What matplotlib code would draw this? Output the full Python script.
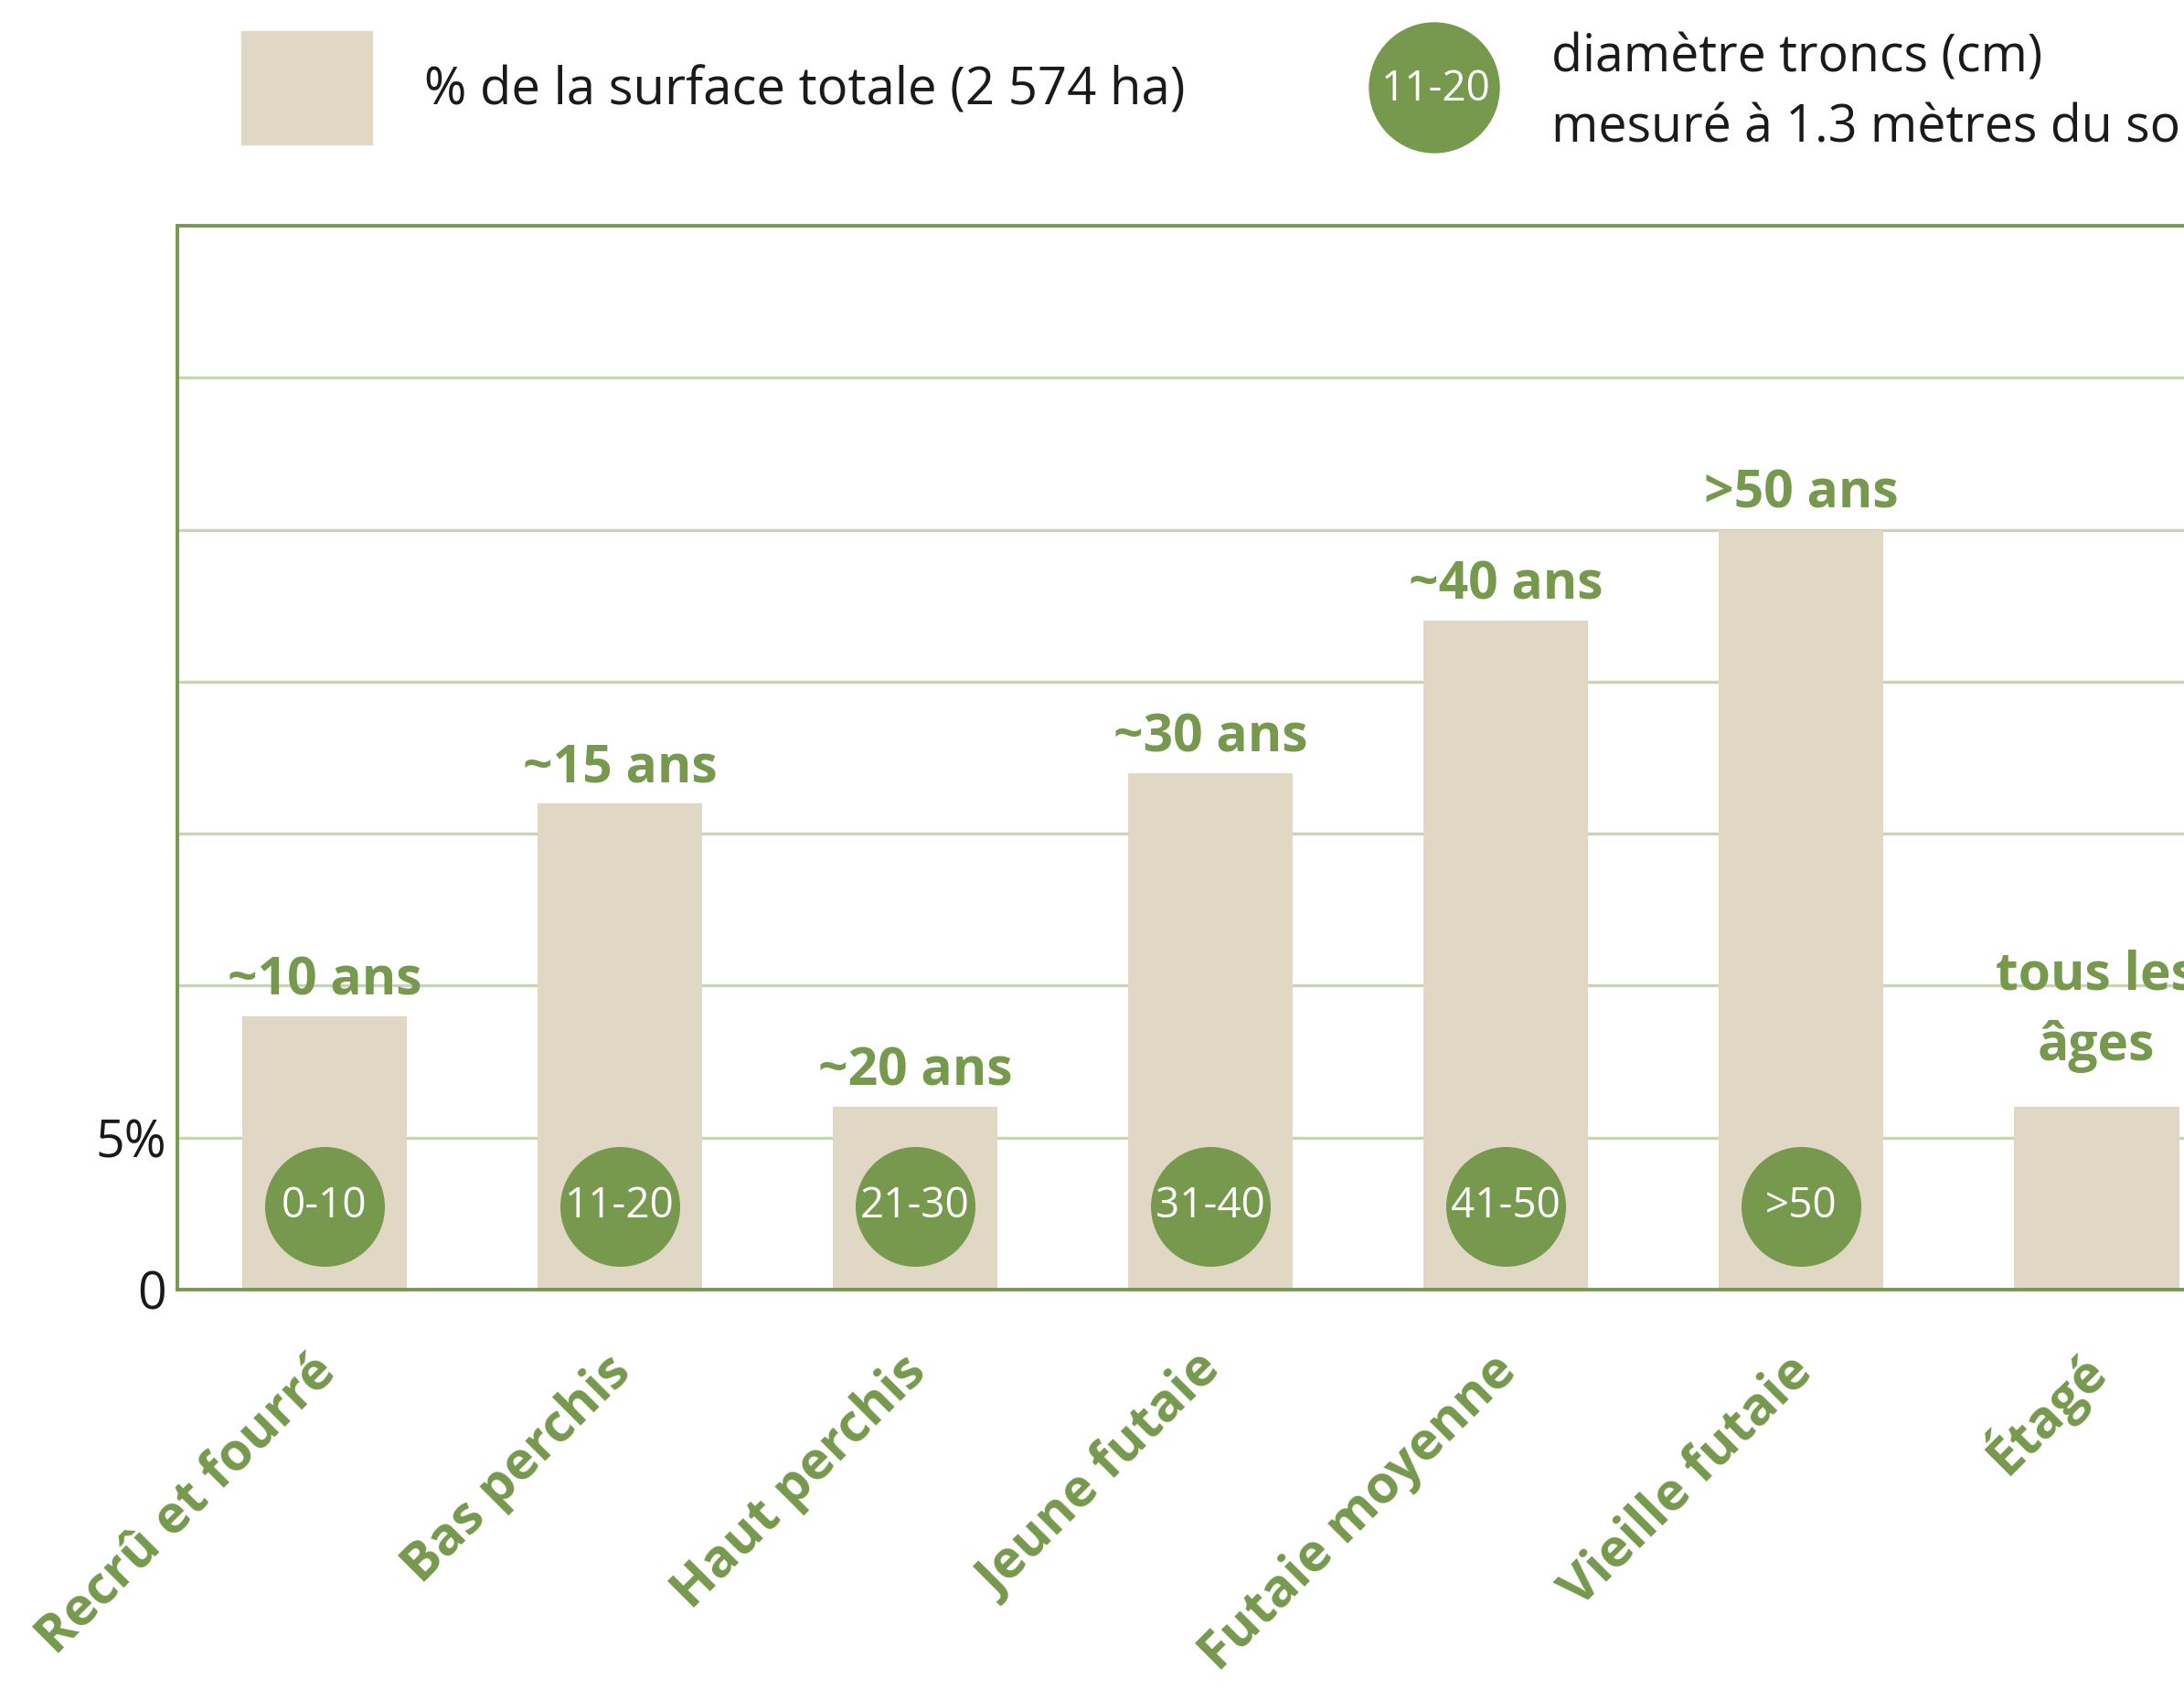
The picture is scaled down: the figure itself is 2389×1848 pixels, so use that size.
import matplotlib
matplotlib.use("Agg")
import matplotlib.pyplot as plt
from matplotlib.patches import Rectangle, Circle

# data
categories = ["Recrû et fourré", "Bas perchis", "Haut perchis", "Jeune futaie",
              "Futaie moyenne", "Vieille futaie", "Étagé"]
surface_pct = [9, 16, 6, 17, 22, 25, 6]
age_labels = ["~10 ans", "~15 ans", "~20 ans", "~30 ans", "~40 ans", ">50 ans", "tous les\nâges"]
diam_labels = ["0-10", "11-20", "21-30", "31-40", "41-50", ">50", ""]
grid_values = [0, 5, 10, 15, 20, 25, 30]
ytick_labels = ["0", "5%", "", "", "", "", ""]

BEIGE = "#e0d8c5"
GREEN = "#76994d"
GRID = "#c6d6b2"
FONT = "Open Sans"

W, H = 2389, 1848
fig = plt.figure(figsize=(W / 100, H / 100), dpi=100)
ax = fig.add_axes([193.5 / W, 1 - 1411 / H, 1 - 193.5 / W, (1411 - 247) / H])

x = list(range(len(categories)))
ax.bar(x, surface_pct, width=0.56, color=BEIGE, zorder=2)

# diameter circles
cx = [i for i, d in zip(x, diam_labels) if d]
ax.scatter(cx, [2.75] * len(cx), s=8900, color=GREEN, zorder=3, linewidths=0)
for i, d in zip(x, diam_labels):
    if d:
        ax.text(i, 2.75, d, color="white", fontsize=33, family=FONT,
                ha="center", va="center", zorder=4)

# age labels above bars
for i, v, lab in zip(x, surface_pct, age_labels):
    dy = 37 if "\n" in lab else 17
    ax.annotate(lab, xy=(i, v), xytext=(0, dy), textcoords="offset points",
                ha="center", va="baseline", fontsize=41, fontweight="bold",
                family=FONT, color=GREEN, linespacing=1.45, clip_on=False)

# rotated category labels
for i, c in zip(x, categories):
    ax.annotate(c, xy=(i, 0), xytext=(10, -66), textcoords="offset points",
                rotation=45, rotation_mode="anchor", ha="right", va="baseline",
                fontsize=41.5, fontweight="bold", family=FONT, color=GREEN)

ax.set_xlim(-0.5, 6.297)
ax.set_ylim(0, 35)
ax.set_xticks([])
ax.set_yticks(grid_values)
ax.set_yticklabels(ytick_labels, fontsize=40, family=FONT, color="#1a1a1a")
ax.tick_params(axis="y", length=0, pad=8)
ax.yaxis.grid(True, color=GRID, linewidth=2.4, zorder=1)
ax.set_axisbelow(True)
for side in ["left", "bottom", "top"]:
    ax.spines[side].set_color(GREEN)
    ax.spines[side].set_linewidth(2.8)
ax.spines["right"].set_visible(False)

# legend drawn in pixel space on top
ov = fig.add_axes([0, 0, 1, 1], zorder=5)
ov.set_xlim(0, W)
ov.set_ylim(H, 0)
ov.axis("off")
ov.add_patch(Rectangle((264, 34), 143, 124, color=BEIGE))
ov.text(464, 100, "% de la surface totale (2 574 ha)", fontsize=40.5, family=FONT,
        color="#1a1a1a", va="center", ha="left")
ov.add_patch(Circle((1569, 96), 71, color=GREEN))
ov.text(1571, 98, "11-20", fontsize=33, family=FONT, color="white",
        ha="center", va="center")
ov.text(1697, 64, "diamètre troncs (cm)", fontsize=40, family=FONT,
        color="#1a1a1a", va="center", ha="left")
ov.text(1697, 141, "mesuré à 1.3 mètres du sol", fontsize=40, family=FONT,
        color="#1a1a1a", va="center", ha="left")

fig.savefig("out.png", dpi=100)
